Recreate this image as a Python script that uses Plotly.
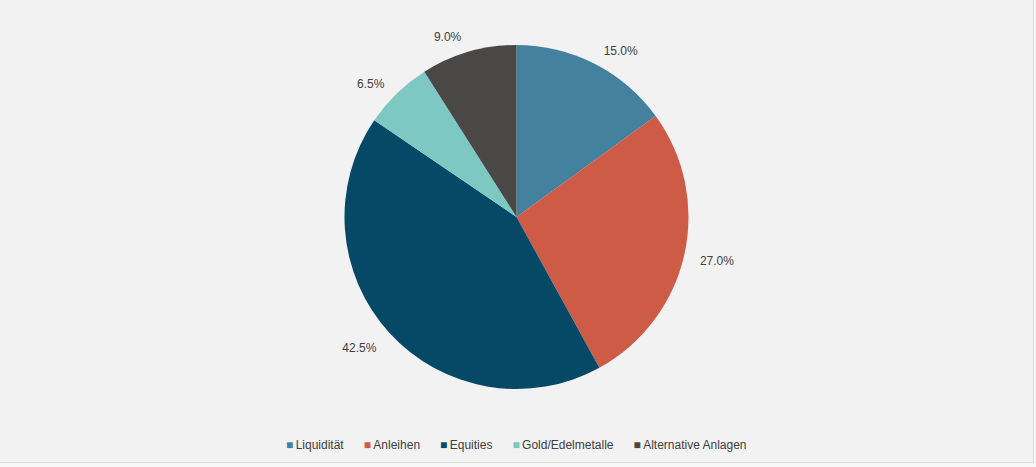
import plotly.graph_objects as go

# Asset allocation data
labels = ["Liquidität", "Anleihen", "Equities", "Gold/Edelmetalle", "Alternative Anlagen"]
values = [15.0, 27.0, 42.5, 6.5, 9.0]
colors = ["#44819f", "#cd5b45", "#054967", "#7ec8c3", "#4a4846"]

FONT = "Liberation Sans, Arial, sans-serif"

fig = go.Figure()

# visible pie, no text
fig.add_trace(go.Pie(
    labels=labels,
    values=values,
    sort=False,
    direction="clockwise",
    rotation=0,
    marker=dict(colors=colors, line=dict(width=0)),
    textinfo="none",
    domain=dict(x=[0, 1], y=[0.158, 0.9026]),
    showlegend=False,
    hovertemplate="%{label}: %{percent:.1%}<extra></extra>",
))

# slightly larger transparent pie, only used to place the percent labels a bit further out
fig.add_trace(go.Pie(
    labels=labels,
    values=values,
    sort=False,
    direction="clockwise",
    rotation=0,
    marker=dict(colors=["rgba(0,0,0,0)"] * len(labels), line=dict(width=0)),
    textposition="outside",
    texttemplate="%{percent:.1%}",
    textfont=dict(family=FONT, size=12, color="#404040"),
    domain=dict(x=[0, 1], y=[0.124, 0.922]),
    showlegend=False,
    hoverinfo="skip",
))

# compact legend line like the original
legend_text = ("&nbsp;" * 6).join(
    f"<span style='color:{c}; font-size:12px'>■</span>&#8201;{l}" for l, c in zip(labels, colors)
)

fig.update_layout(
    width=1033,
    height=462,
    margin=dict(l=0, r=0, t=0, b=0, autoexpand=False),
    paper_bgcolor="#f2f2f2",
    showlegend=False,
    annotations=[dict(
        text=legend_text, x=0.5, y=0.037, xref="paper", yref="paper",
        xanchor="center", yanchor="middle", showarrow=False,
        font=dict(family=FONT, size=12, color="#404040"),
    )],
)

fig.write_html(
    "out.html",
    config={"displayModeBar": False},
    post_script=(
        "document.body.style.margin='0';"
        "document.body.style.background='#f8f8f8';"
        "var gd=document.getElementById('{plot_id}');"
        "gd.style.borderRight='1px solid #d9d9d9';"
        "gd.style.borderBottom='1px solid #d9d9d9';"
    ),
)
